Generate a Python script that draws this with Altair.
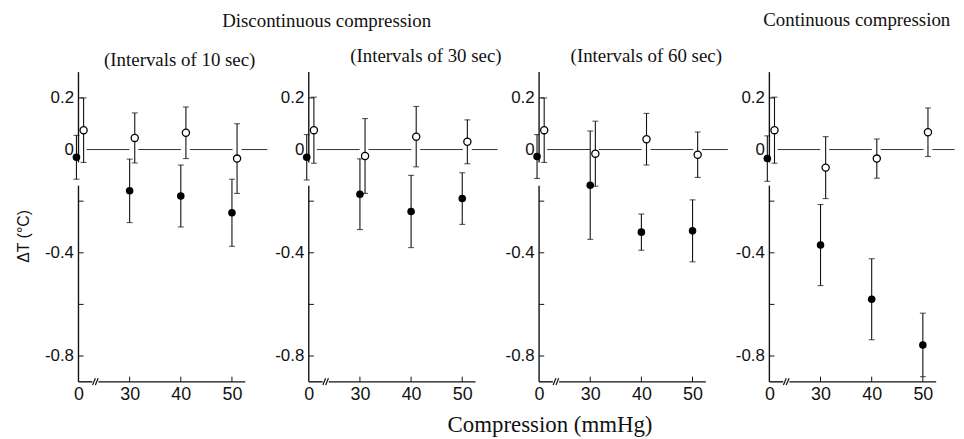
import altair as alt
import pandas as pd

# ---------------- data ----------------
pressures = [0, 30, 40, 50]                       # mmHg
panels = ["10 sec", "30 sec", "60 sec", "continuous"]

# filled circles (mean ΔT, ± half-width of error bar)
filled_10 = [-0.03, -0.16, -0.18, -0.245]
filled_10_err = [0.085, 0.123, 0.12, 0.13]
filled_30 = [-0.03, -0.173, -0.24, -0.19]
filled_30_err = [0.088, 0.137, 0.14, 0.10]
filled_60 = [-0.027, -0.138, -0.32, -0.315]
filled_60_err = [0.085, 0.21, 0.07, 0.12]
filled_cont = [-0.035, -0.37, -0.58, -0.757]
filled_cont_err = [0.088, 0.157, 0.157, 0.123]

# open circles
open_10 = [0.075, 0.045, 0.065, -0.035]
open_10_err = [0.125, 0.097, 0.10, 0.135]
open_30 = [0.075, -0.025, 0.05, 0.03]
open_30_err = [0.128, 0.145, 0.117, 0.085]
open_60 = [0.075, -0.016, 0.04, -0.02]
open_60_err = [0.125, 0.126, 0.10, 0.088]
open_cont = [0.075, -0.07, -0.035, 0.067]
open_cont_err = [0.128, 0.12, 0.076, 0.094]

panel_titles = ["(Intervals of 10 sec)", "(Intervals of 30 sec)", "(Intervals of 60 sec)", ""]
group_titles = ["Discontinuous compression", "Continuous compression"]
x_title = "Compression (mmHg)"
y_title = "ΔT (°C)"
y_label_values = [0.2, 0, -0.4, -0.8]
y_tick_values = [0.2, -0.2, -0.4, -0.6, -0.8]
x_tick_values = [30, 40, 50]

# ---------------- build tables ----------------
filled = {"10 sec": (filled_10, filled_10_err), "30 sec": (filled_30, filled_30_err),
          "60 sec": (filled_60, filled_60_err), "continuous": (filled_cont, filled_cont_err)}
opened = {"10 sec": (open_10, open_10_err), "30 sec": (open_30, open_30_err),
          "60 sec": (open_60, open_60_err), "continuous": (open_cont, open_cont_err)}

BREAK_POS = 20  # axis position used for 0 mmHg (broken axis)


def axis_pos(p):
    return BREAK_POS if p == 0 else p


rows = []
for pn in panels:
    for series, src in (("filled", filled), ("open", opened)):
        means, errs = src[pn]
        for p, m, e in zip(pressures, means, errs):
            dodge = 1.0 if series == "open" else (-0.4 if p == 0 else 0.0)
            rows.append({"panel": pn, "series": series, "xpos": axis_pos(p) + dodge,
                         "mean": m, "lo": m - e, "hi": m + e})
pts = pd.DataFrame(rows)
caps = pd.concat([pts.assign(y=pts["lo"]), pts.assign(y=pts["hi"])], ignore_index=True)

X_DOM = [20, 52.6]
Y_DOM = [-0.9, 0.3]

axis_segs = pd.DataFrame({
    "x": [20, 20, 20, 23.9], "x2": [20, 20, 22.7, X_DOM[1]],
    "y": [Y_DOM[1], -0.14, Y_DOM[0], Y_DOM[0]], "y2": [-0.05, Y_DOM[0], Y_DOM[0], Y_DOM[0]],
})
ytick_df = pd.DataFrame({"x": [20] * len(y_tick_values), "x2": [21] * len(y_tick_values),
                         "y": y_tick_values, "y2": y_tick_values})
xtick_df = pd.DataFrame({"x": x_tick_values, "x2": x_tick_values,
                         "y": [Y_DOM[0]] * 3, "y2": [Y_DOM[0] + 0.02] * 3})
slash_df = pd.DataFrame({"x": [22.75, 23.3], "x2": [23.3, 23.85],
                         "y": [Y_DOM[0] - 0.012] * 2, "y2": [Y_DOM[0] + 0.014] * 2})

INK = "#111111"
TICK_FONT = "Liberation Sans"
SERIF = "Liberation Serif"

xscale = alt.Scale(domain=X_DOM, nice=False, zero=False)
yscale = alt.Scale(domain=Y_DOM, nice=False, zero=False)
xaxis = alt.Axis(values=[20, 30, 40, 50], labelExpr="datum.value == 20 ? '0' : datum.label",
                 domain=False, ticks=False, grid=False, title=None, labelFont=TICK_FONT,
                 labelFontSize=18, labelPadding=4, labelColor=INK, labelFlush=False)
ylabel_expr = ("datum.value == 0 ? '0' : (datum.value < 0 ? '-' + format(-datum.value, '.1f')"
               " : format(datum.value, '.1f'))")


def yaxis(first):
    kw = dict(values=y_label_values, labelExpr=ylabel_expr, domain=False, ticks=False, grid=False,
              labelFont=TICK_FONT, labelFontSize=17, labelPadding=5, labelColor=INK, labelFlush=False)
    if first:
        kw.update(title=y_title, titleFont=TICK_FONT, titleFontSize=16, titleFontWeight="normal",
                  titleColor=INK, titleAngle=270, titleX=-55, titleY=165, titleAlign="center",
                  titleBaseline="middle")
    else:
        kw.update(title=None)
    return alt.Axis(**kw)


def X(f):
    return alt.X(f"{f}:Q", scale=xscale, axis=xaxis)


def Y(f, first):
    return alt.Y(f"{f}:Q", scale=yscale, axis=yaxis(first))


def text_layer(txt, dx, dy, size, font=SERIF):
    return alt.Chart(pd.DataFrame({"t": [txt]})).mark_text(
        font=font, fontSize=size, color=INK, align="center", baseline="middle"
    ).encode(x=alt.value(dx), y=alt.value(dy), text="t:N")


def panel_chart(i):
    pn = panels[i]
    first = i == 0
    d = pts[pts["panel"] == pn]
    c = caps[caps["panel"] == pn]
    zero_end = 56.2 if i == 3 else 56.9
    zero_df = pd.DataFrame({"x": [21.6], "x2": [zero_end], "y": [0.0]})

    layers = [
        alt.Chart(zero_df).mark_rule(color="#333333", strokeWidth=1, strokeDash=[43, 9]).encode(
            x=X("x"), x2="x2:Q", y=Y("y", first)),
        alt.Chart(axis_segs).mark_rule(color=INK, strokeWidth=1.4).encode(
            x=X("x"), x2="x2:Q", y=Y("y", first), y2="y2:Q"),
        alt.Chart(ytick_df).mark_rule(color=INK, strokeWidth=1).encode(
            x=X("x"), x2="x2:Q", y=Y("y", first), y2="y2:Q"),
        alt.Chart(xtick_df).mark_rule(color=INK, strokeWidth=1).encode(
            x=X("x"), x2="x2:Q", y=Y("y", first), y2="y2:Q"),
        alt.Chart(slash_df).mark_rule(color=INK, strokeWidth=1.2).encode(
            x=X("x"), x2="x2:Q", y=Y("y", first), y2="y2:Q"),
        alt.Chart(d).mark_rule(color=INK, strokeWidth=1.1).encode(
            x=X("xpos"), y=Y("lo", first), y2="hi:Q"),
        alt.Chart(c).mark_tick(color=INK, orient="horizontal", size=6, thickness=1.1).encode(
            x=X("xpos"), y=Y("y", first)),
        alt.Chart(d[d["series"] == "filled"]).mark_circle(color="black", size=58, opacity=1).encode(
            x=X("xpos"), y=Y("mean", first)),
        alt.Chart(d[d["series"] == "open"]).mark_circle(
            fill="white", stroke="black", strokeWidth=1.3, size=52, opacity=1).encode(
            x=X("xpos"), y=Y("mean", first)),
    ]
    if i == 0:
        layers.append(text_layer(panel_titles[0], 102, -12, 19))
        layers.append(text_layer(group_titles[0], 250, -51, 19))
    elif i == 1:
        layers.append(text_layer(panel_titles[1], 118, -16, 19))
    elif i == 2:
        layers.append(text_layer(panel_titles[2], 108, -16, 19))
        layers.append(text_layer(x_title, 11, 356, 23))
    else:
        layers.append(text_layer(group_titles[1], 88, -52, 19))
    return alt.layer(*layers).properties(width=168, height=312)


chart = alt.hconcat(*[panel_chart(i) for i in range(4)], spacing=64, bounds="flush").properties(
    padding={"top": 2, "left": 8, "right": 0, "bottom": 0}, background="white"
).configure_view(stroke=None).configure_axis(grid=False)

chart.save("out.html", embed_options={"renderer": "svg", "actions": False})
